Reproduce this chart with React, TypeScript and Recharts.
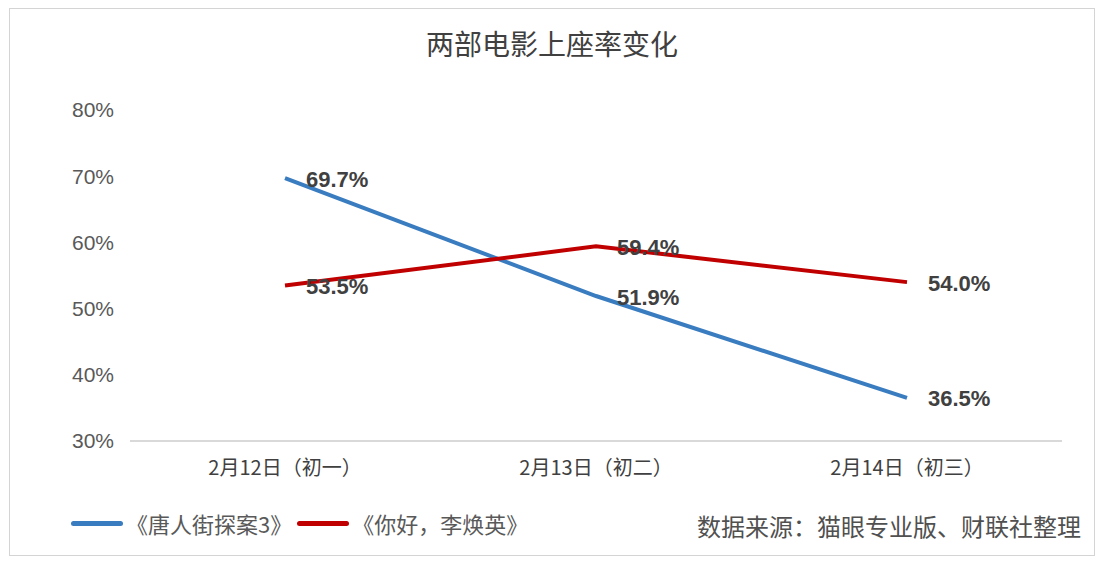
import { LineChart, Line, XAxis, YAxis } from "recharts";

const categories = ["2月12日（初一）", "2月13日（初二）", "2月14日（初三）"];
const tangRen = [69.7, 51.9, 36.5];
const niHao = [53.5, 59.4, 54.0];
const yTicks = [30, 40, 50, 60, 70, 80];

const seriesNames = ["《唐人街探案3》", "《你好，李焕英》"];
const colors = ["#3a7cc0", "#c00000"];

const data = categories.map((name, i) => ({
  name,
  tangRen: tangRen[i],
  niHao: niHao[i],
}));

const font = "'Liberation Sans', 'Noto Sans CJK SC', sans-serif";
const cjk = "'Noto Sans CJK SC', sans-serif";

const renderLabel = (props: any) => {
  const { x, y, value } = props;
  return (
    <text
      x={x + 21}
      y={y + 1}
      fontSize={22}
      fontWeight="bold"
      fill="#404040"
      fontFamily={font}
      dominantBaseline="central"
    >
      {Number(value).toFixed(1)}%
    </text>
  );
};

export default function App() {
  return (
    <div
      style={{
        position: "relative",
        marginLeft: 1,
        width: 1084,
        height: 546,
        border: "1px solid #d4d4d4",
        background: "#fff",
        fontFamily: font,
      }}
    >
      <div
        style={{
          position: "absolute",
          top: 14,
          left: 0,
          width: "100%",
          textAlign: "center",
          fontSize: 28,
          color: "#404040",
          fontFamily: cjk,
        }}
      >
        两部电影上座率变化
      </div>

      <LineChart
        width={1084}
        height={546}
        data={data}
        margin={{ top: 101, right: 32, bottom: 74, left: 60 }}
      >
        <XAxis
          dataKey="name"
          height={40}
          tickLine={false}
          axisLine={{ stroke: "#d9d9d9", strokeWidth: 2 }}
          tick={{ fontSize: 20, fill: "#404040", fontFamily: cjk }}
          tickMargin={14}
          padding={{ left: 155, right: 155 }}
        />
        <YAxis
          width={60}
          domain={[30, 80]}
          ticks={yTicks}
          axisLine={false}
          tickLine={false}
          tickMargin={10}
          tick={{ fontSize: 21, fill: "#595959", fontFamily: font }}
          tickFormatter={(v) => `${v}%`}
        />
        <Line
          type="linear"
          dataKey="tangRen"
          name={seriesNames[0]}
          stroke={colors[0]}
          strokeWidth={4}
          dot={false}
          label={renderLabel}
          isAnimationActive={false}
        />
        <Line
          type="linear"
          dataKey="niHao"
          name={seriesNames[1]}
          stroke={colors[1]}
          strokeWidth={4}
          dot={false}
          label={renderLabel}
          isAnimationActive={false}
        />
      </LineChart>

      <div
        style={{
          position: "absolute",
          left: 61,
          top: 498,
          display: "flex",
          alignItems: "center",
          fontSize: 22,
          color: "#595959",
          fontFamily: cjk,
        }}
      >
        {seriesNames.map((n, i) => (
          <div key={n} style={{ display: "flex", alignItems: "center", marginRight: 5 }}>
            <span
              style={{
                display: "inline-block",
                width: 52,
                height: 5,
                borderRadius: 3,
                background: colors[i],
                marginRight: 3,
              }}
            />
            <span>{n}</span>
          </div>
        ))}
      </div>

      <div
        style={{
          position: "absolute",
          right: 13,
          top: 499,
          fontSize: 24,
          color: "#505050",
          fontFamily: cjk,
        }}
      >
        数据来源：猫眼专业版、财联社整理
      </div>
    </div>
  );
}
